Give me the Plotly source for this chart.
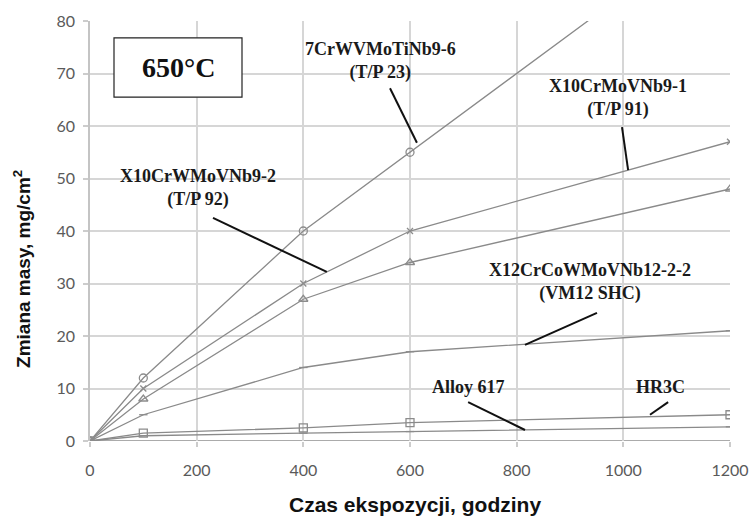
import plotly.graph_objects as go

# Exposure time, hours
hours = [0, 100, 400, 600, 1200]

# Mass change, mg/cm2, per steel grade
tp23 = [0, 12, 40, 55, 100]
tp91 = [0, 10, 30, 40, 57]
tp92 = [0, 8, 27, 34, 48]
vm12 = [0, 5, 14, 17, 21]
hr3c = [0, 1.5, 2.5, 3.5, 5.0]
alloy617 = [0, 1.0, 1.5, 1.8, 2.7]

series_names = ["7CrWVMoTiNb9-6 (T/P 23)", "X10CrMoVNb9-1 (T/P 91)",
                "X10CrWMoVNb9-2 (T/P 92)", "X12CrCoWMoVNb12-2-2 (VM12 SHC)",
                "HR3C", "Alloy 617"]
series_values = [tp23, tp91, tp92, vm12, hr3c, alloy617]
series_symbols = ["circle-open", "x-thin-open", "triangle-up-open",
                  "line-ew-open", "square-open", "line-ew-open"]
series_sizes = [8, 6, 8, 6, 8, 6]

x_ticks = [0, 200, 400, 600, 800, 1000, 1200]
y_ticks = [0, 10, 20, 30, 40, 50, 60, 70, 80]

fig = go.Figure()
for name, vals, sym, sz in zip(series_names, series_values, series_symbols, series_sizes):
    fig.add_trace(go.Scatter(
        x=hours, y=vals, name=name, mode="lines+markers",
        line=dict(color="#8a8a8a", width=1.3),
        marker=dict(symbol=sym, size=sz, color="#8c8c8c",
                    line=dict(color="#8c8c8c", width=1.3)),
        cliponaxis=True, showlegend=False))

serif = "Liberation Serif"
label_font = dict(family=serif, size=18, color="#1a1a1a")

# Curve labels with leader lines (data coordinates)
labels = [
    ("<b>7CrWVMoTiNb9-6<br>(T/P 23)</b>", 544, 72.4, (562.5, 67.2, 613, 56.8)),
    ("<b>X10CrMoVNb9-1<br>(T/P 91)</b>", 990, 65.3, (997.5, 59.8, 1009, 51.6)),
    ("<b>X10CrWMoVNb9-2<br>(T/P 92)</b>", 202, 48.2, (230.6, 42.5, 444, 32.2)),
    ("<b>X12CrCoWMoVNb12-2-2<br>(VM12 SHC)</b>", 937, 30.3, (950.6, 24.4, 815.6, 18.3)),
    ("<b>Alloy 617</b>", 709, 10.3, (709, 7.4, 815.6, 2.1)),
    ("<b>HR3C</b>", 1069, 10.3, (1084, 7.4, 1050, 5.0)),
]
for text, tx, ty, (x0, y0, x1, y1) in labels:
    fig.add_annotation(x=tx, y=ty, text=text, showarrow=False,
                       xanchor="center", yanchor="middle",
                       font=label_font, align="center")
    fig.add_shape(type="line", x0=x0, y0=y0, x1=x1, y1=y1,
                  line=dict(color="#111111", width=2))

# Temperature box
fig.add_shape(type="rect", x0=45, x1=285, y0=65.5, y1=76.8,
              line=dict(color="#222222", width=1.2), fillcolor="white")
fig.add_annotation(x=165, y=71.2, text="<b>650°C</b>", showarrow=False,
                   xanchor="center", yanchor="middle",
                   font=dict(family=serif, size=28, color="#111111"))

# Axis titles
fig.add_annotation(xref="paper", yref="paper", x=0.508, y=-0.152,
                   xanchor="center", yanchor="middle",
                   text="<b>Czas ekspozycji, godziny</b>", showarrow=False,
                   font=dict(family="Liberation Sans", size=21, color="#111111"))
fig.add_annotation(xref="paper", yref="paper", x=-0.106, y=0.41,
                   xanchor="center", yanchor="middle",
                   text="<b>Zmiana masy, mg/cm<sup>2</sup></b>", showarrow=False,
                   textangle=-90,
                   font=dict(family="Liberation Sans", size=19, color="#111111"))

tick_font = dict(family="Lato", size=16, color="#5a5a5a")
fig.update_xaxes(range=[0, 1200], tickvals=x_ticks, ticktext=[str(v) for v in x_ticks],
                 showgrid=True, gridcolor="#d6d6d6", gridwidth=2,
                 zeroline=False, showline=False, automargin=False,
                 ticks="outside", ticklen=5, tickcolor="#cccccc", tickwidth=2,
                 ticklabelstandoff=10, tickfont=tick_font)
fig.update_yaxes(range=[0, 80], tickvals=y_ticks, ticktext=[str(v) for v in y_ticks],
                 showgrid=True, gridcolor="#d6d6d6", gridwidth=2,
                 zeroline=False, showline=True, linecolor="#c4c4c4", linewidth=1.5,
                 automargin=False,
                 ticks="outside", ticklen=5, tickcolor="#cccccc", tickwidth=1.5,
                 ticklabelstandoff=5, tickfont=tick_font)

# Darker baseline at zero
fig.add_shape(type="line", xref="x", yref="y", x0=0, x1=1200, y0=0, y1=0,
              line=dict(color="#8f8f8f", width=1.5), layer="below")

fig.update_layout(width=751, height=521,
                  margin=dict(l=90, r=21, t=21, b=80),
                  plot_bgcolor="white", paper_bgcolor="white")

fig.write_html("out.html")
